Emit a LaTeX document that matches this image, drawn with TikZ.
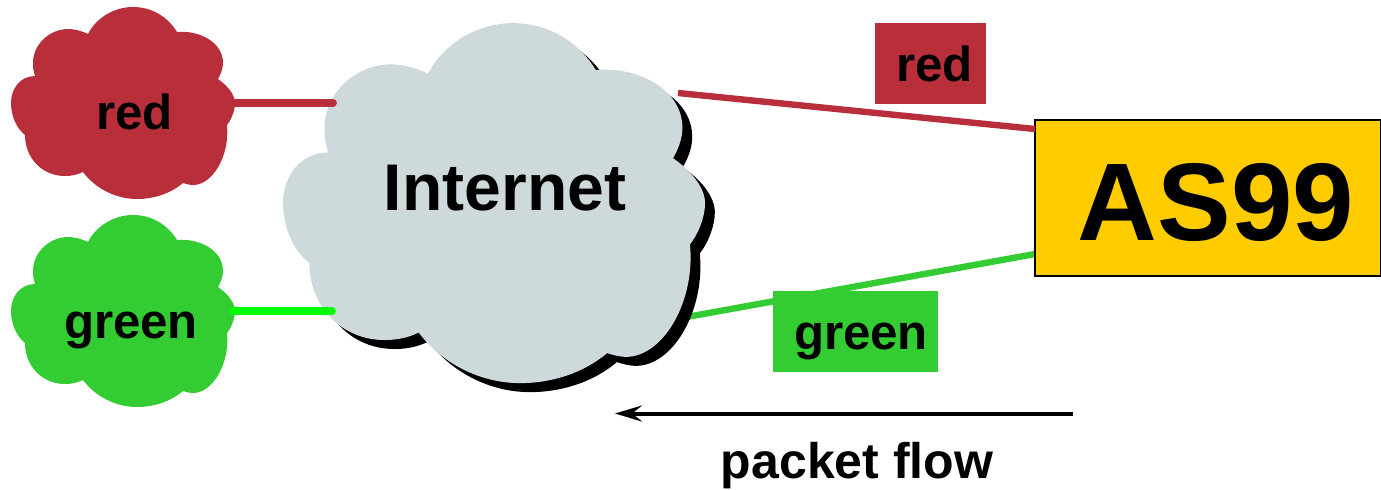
\documentclass[tikz,border=0pt]{standalone}
\usepackage{fontspec}
\setmainfont{Liberation Sans}
\usetikzlibrary{arrows.meta}
\definecolor{cred}{HTML}{B82E3B}
\definecolor{cgreen}{HTML}{33CC33}
\definecolor{cgrey}{HTML}{CED9DB}
\definecolor{cgold}{HTML}{FFCC00}
\definecolor{cbright}{HTML}{00FF00}
\newcommand{\cloudoutline}{
 (88,34) .. controls (96,18) and (114,7) .. (133,7) .. controls (152,7) and (168,17) .. (177,32)
 .. controls (199,30) and (223,42) .. (223,63) .. controls (223,68) and (221,74) .. (218,79)
 .. controls (228,86) and (235,95) .. (235,103) .. controls (235,111) and (231,120) .. (227,125)
 .. controls (230,155) and (213,185) .. (193,185) .. controls (190,185) and (186,184) .. (183,183)
 .. controls (170,194) and (153,199) .. (137,199) .. controls (115,199) and (95,188) .. (83,172)
 .. controls (77,175) and (71,176) .. (65,176) .. controls (42,176) and (25,158) .. (25,135)
 .. controls (16,128) and (11,115) .. (11,103) .. controls (11,89) and (20,76) .. (35,76)
 .. controls (33,70) and (33,66) .. (33,63) .. controls (33,44) and (50,29) .. (68,29)
 .. controls (75,29) and (82,31) .. (88,34) -- cycle}
\tikzset{
  txt/.style={font=\bfseries\fontsize{24.6}{25}\selectfont, anchor=base, inner sep=0pt, text=black},
  labelbox/.style={anchor=north west, inner sep=0pt, minimum width=#1*0.5pt, minimum height=40.5pt},
  link/.style={line width=3.2pt},
  stub/.style={line width=3.9pt, line cap=round},
}
\begin{document}
\begin{tikzpicture}[x=0.5pt,y=-0.5pt]
\useasboundingbox (0,0) rectangle (1381,489);
% anchors
\coordinate (redout) at (235,103);
\coordinate (redin) at (333,103);
\coordinate (greenout) at (233,311);
\coordinate (greenin) at (332,311);
\coordinate (netred) at (678,93);
\coordinate (netgreen) at (670,320);
\coordinate (flowstart) at (1073,413.5);
\coordinate (flowend) at (615,413.5);
\coordinate (asred) at (1035,129);
\coordinate (asgreen) at (1035,254);
% connector that passes behind the Internet cloud
\draw[link,cgreen] (netgreen) -- (asgreen);
% clouds
\fill[cred] \cloudoutline;
\begin{scope}[yshift=-104pt]
\fill[cgreen] \cloudoutline;
\end{scope}
\begin{scope}[shift={(262.3,10)},xscale=1.884,yscale=1.875]
\fill[black,shift={(5.2,4.8)}] \cloudoutline;
\fill[cgrey] \cloudoutline;
\end{scope}
% AS99 box (runs past the right edge)
\node[draw=black, line width=1pt, fill=cgold, anchor=north west, inner sep=0pt,
      minimum width=173pt, minimum height=78pt] (as) at (1034,118.5) {};
% connectors
\draw[stub,cred] (redout) -- (redin);
\draw[stub,cbright] (greenout) -- (greenin);
\draw[link,cred] (netred) -- (asred);
\draw[line width=2pt,-{Stealth[length=13.5pt,width=8pt,inset=5pt]}] (flowstart) -- (flowend);
% label boxes
\node[labelbox=111, fill=cred] (lr) at (875,23) {};
\node[labelbox=165, fill=cgreen] (lg) at (773,291) {};
% texts
\node[txt] (tred) at (134.5,129) {red};
\node[txt] (tgreen) at (131,338) {green};
\node[txt, font=\bfseries\fontsize{33}{33}\selectfont] (tnet) at (505,210) {Internet};
\node[txt, font=\bfseries\fontsize{55.2}{56}\selectfont] (tas) at (1216,240) {AS99};
\node[txt] (tlr) at (934.5,81) {red};
\node[txt] (tlg) at (861,349) {green};
\node[txt, font=\bfseries\fontsize{25}{25}\selectfont] (tflow) at (857,478.5) {packet flow};
\end{tikzpicture}
\end{document}
